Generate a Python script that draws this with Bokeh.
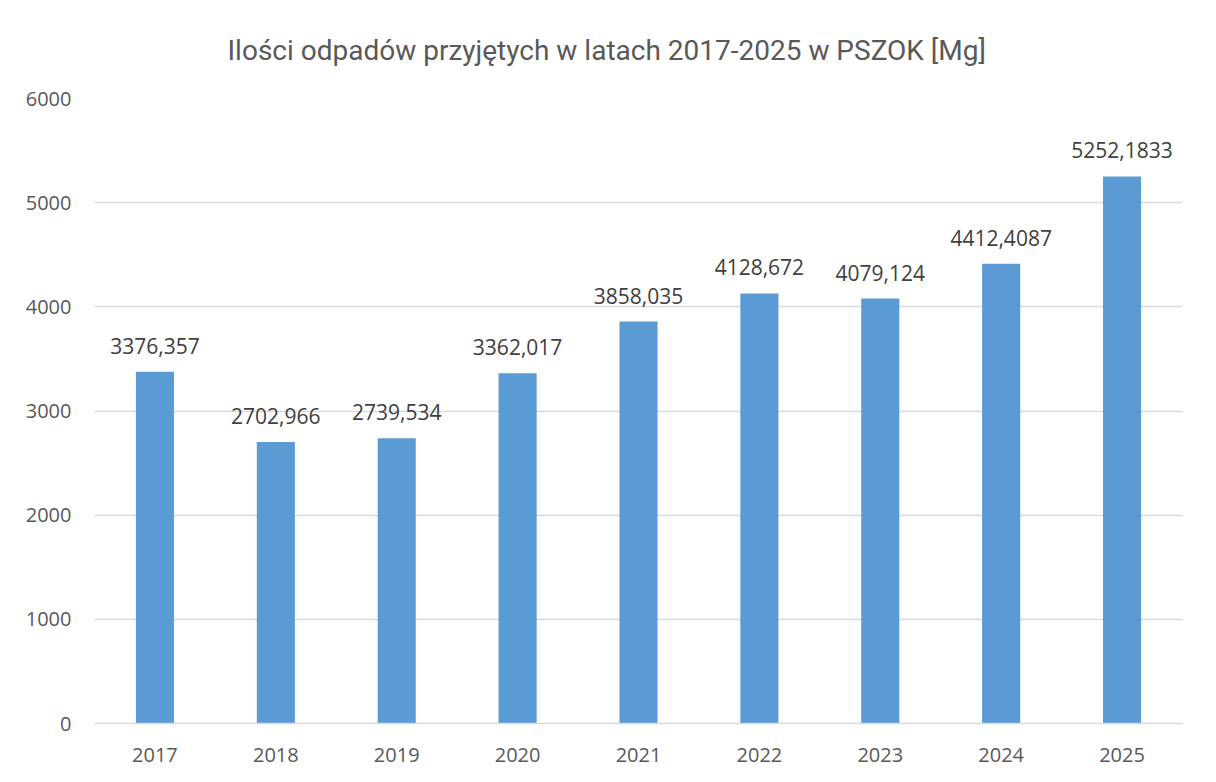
from bokeh.plotting import figure
from bokeh.models import ColumnDataSource, FactorRange, Range1d, FixedTicker, LabelSet
from bokeh.core.properties import value
from bokeh.embed import file_html
from bokeh.resources import INLINE

years = ["2017", "2018", "2019", "2020", "2021", "2022", "2023", "2024", "2025"]
values = [3376.357, 2702.966, 2739.534, 3362.017, 3858.035, 4128.672, 4079.124, 4412.4087, 5252.1833]
labels = ["3376,357", "2702,966", "2739,534", "3362,017", "3858,035", "4128,672", "4079,124", "4412,4087", "5252,1833"]
y_ticks = [0, 1000, 2000, 3000, 4000, 5000, 6000]

src = ColumnDataSource(dict(x=years, top=values, lab=labels))

p = figure(width=1200, height=766, x_range=FactorRange(*years, range_padding=0),
           y_range=Range1d(0, 6000), output_backend="svg", toolbar_location=None,
           min_border_left=94, min_border_right=18, min_border_top=97, min_border_bottom=43)

p.vbar(x="x", top="top", width=0.315, source=src, fill_color="#5B9BD5", line_color=None)

p.add_layout(LabelSet(x="x", y="top", text="lab", source=src, text_align="center",
                      text_baseline="bottom", y_offset=18, text_font=value("Open Sans"),
                      text_font_size="21px", text_color="#404040"))

p.title.text = "Ilości odpadów przyjętych w latach 2017-2025 w PSZOK [Mg]"
p.title.align = "left"
p.title.text_font = "Roboto"
p.title.text_font_style = "normal"
p.title.text_font_size = "28px"
p.title.text_color = "#595959"
p.title.standoff = 63
p.title.offset = 133

p.outline_line_color = None
p.xgrid.grid_line_color = None
p.ygrid.grid_line_color = "#d9d9d9"
p.ygrid.grid_line_width = 1.3
p.yaxis.ticker = FixedTicker(ticks=y_ticks)
p.yaxis.axis_line_color = None
p.yaxis.major_tick_line_color = None
p.yaxis.minor_tick_line_color = None
p.yaxis.major_label_standoff = 17
p.xaxis.axis_line_color = "#d9d9d9"
p.xaxis.axis_line_width = 1.3
p.xaxis.major_tick_line_color = None
p.xaxis.major_label_standoff = 18
for ax in (p.xaxis, p.yaxis):
    ax.major_label_text_font = "Open Sans"
    ax.major_label_text_font_size = "20px"
    ax.major_label_text_color = "#595959"

open("out.html", "w").write(file_html(p, INLINE))
